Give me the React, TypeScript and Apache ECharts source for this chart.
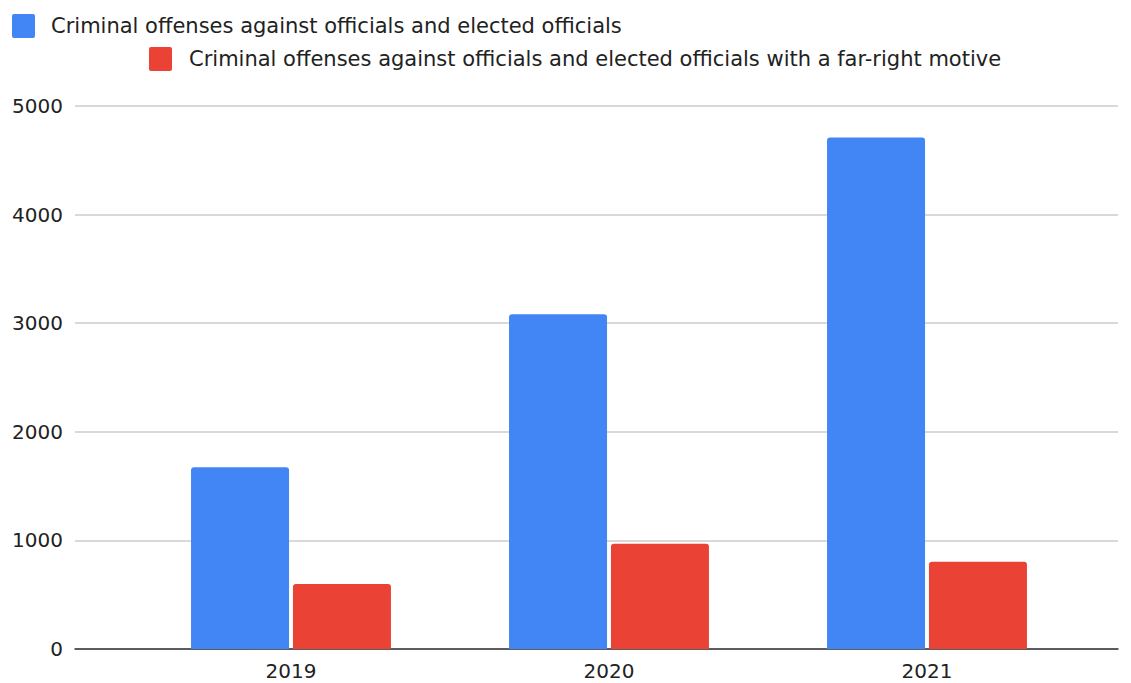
import React, { useEffect, useRef } from "react";
import * as echarts from "echarts";

const categories = ["2019", "2020", "2021"];
const seriesNames = [
  "Criminal offenses against officials and elected officials",
  "Criminal offenses against officials and elected officials with a far-right motive",
];
const totalOffenses = [1674, 3083, 4710];
const farRightOffenses = [599, 970, 803];
const yTicks = [0, 1000, 2000, 3000, 4000, 5000];

const FONT = "DejaVu Sans";
const ICON = "path://M2,0H21A2,2 0 0 1 23,2V22A2,2 0 0 1 21,24H2A2,2 0 0 1 0,22V2A2,2 0 0 1 2,0Z";

export default function App() {
  const ref = useRef<HTMLDivElement>(null);
  useEffect(() => {
    const chart = echarts.init(ref.current!, null, { renderer: "svg" });
    chart.setOption({
      animation: false,
      backgroundColor: "#ffffff",
      textStyle: { fontFamily: FONT },
      legend: [
        {
          data: [seriesNames[0]],
          left: 12,
          top: 14,
          padding: 0,
          itemWidth: 23,
          itemHeight: 24,
          icon: ICON,
          textStyle: { fontSize: 21, color: "#222", fontFamily: FONT, padding: [0, 0, 0, 11] },
        },
        {
          data: [seriesNames[1]],
          left: 149,
          top: 47,
          padding: 0,
          itemWidth: 23,
          itemHeight: 24,
          icon: ICON,
          textStyle: { fontSize: 21, color: "#222", fontFamily: FONT, padding: [0, 0, 0, 12] },
        },
      ],
      grid: [
        { left: 75, right: 13, top: 106, bottom: 34 },
        { left: 132, right: 45, top: 106, bottom: 34 },
      ],
      xAxis: [
        {
          type: "category",
          gridIndex: 0,
          data: [""],
          axisLine: { show: true, lineStyle: { color: "#333", width: 1.5 } },
          axisTick: { show: false },
          axisLabel: { show: false },
        },
        {
          type: "category",
          gridIndex: 1,
          data: categories,
          axisLine: { show: false },
          axisTick: { show: false },
          axisLabel: { fontSize: 20, color: "#222", fontFamily: FONT, margin: 12 },
        },
      ],
      yAxis: [
        {
          type: "value",
          gridIndex: 0,
          min: yTicks[0],
          max: yTicks[yTicks.length - 1],
          interval: 1000,
          axisLine: { show: false },
          axisTick: { show: false },
          axisLabel: {
            fontSize: 20,
            color: "#222",
            fontFamily: FONT,
            margin: 12,
            formatter: (v: number) => String(v),
          },
          splitLine: { lineStyle: { color: "#cccccc", width: 1.5 } },
        },
        {
          type: "value",
          gridIndex: 1,
          min: yTicks[0],
          max: yTicks[yTicks.length - 1],
          interval: 1000,
          show: false,
          splitLine: { show: false },
        },
      ],
      series: [
        {
          name: seriesNames[0],
          type: "bar",
          xAxisIndex: 1,
          yAxisIndex: 1,
          data: totalOffenses,
          barWidth: 98,
          barGap: "4%",
          itemStyle: { color: "#4285f4", borderRadius: [3, 3, 0, 0] },
        },
        {
          name: seriesNames[1],
          type: "bar",
          xAxisIndex: 1,
          yAxisIndex: 1,
          data: farRightOffenses,
          barWidth: 98,
          barGap: "4%",
          itemStyle: { color: "#ea4335", borderRadius: [3, 3, 0, 0] },
        },
      ],
    });
    return () => chart.dispose();
  }, []);
  return <div ref={ref} style={{ width: 1131, height: 683, position: "absolute", left: 0, top: 0 }} />;
}
